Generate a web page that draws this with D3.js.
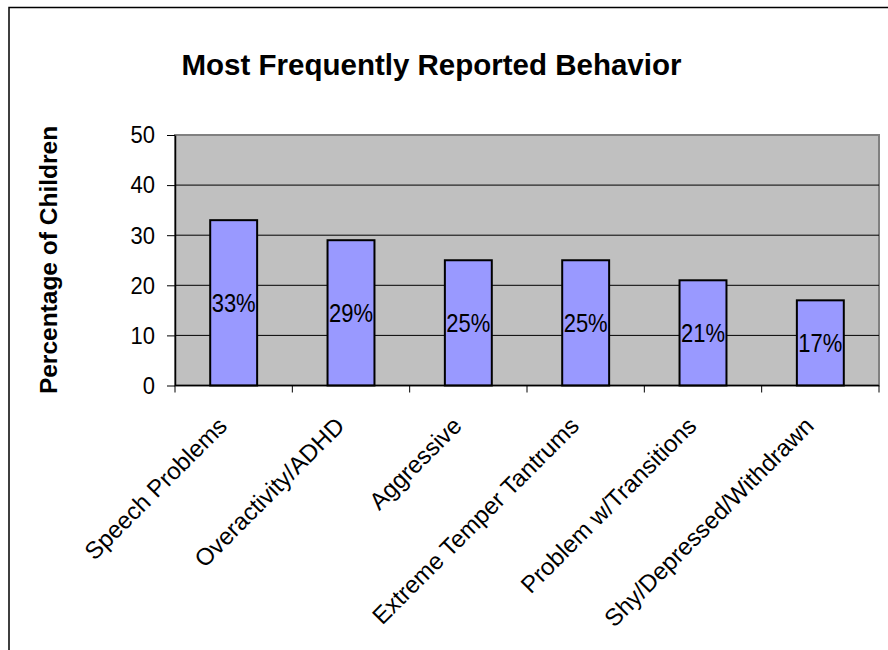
<!DOCTYPE html>
<html lang="en">
<head>
  <meta charset="UTF-8" />
  <title>Most Frequently Reported Behavior</title>
  <script src="https://d3js.org/d3.v7.min.js"></script>
  <style>
    body {
      margin: 0;
      background: #fff;
      font-family: Arial, "Liberation Sans", sans-serif;
    }
    .tick text {
      font-size: 22px;
      fill: #000;
    }
    .bar {
      fill: #9999ff;
      stroke: #000;
      stroke-width: 2;
    }
    .bar-label {
      font-size: 22px;
    }
    .x-label {
      font-size: 24px;
    }
  </style>
</head>
<body>

<svg width="888" height="650"></svg>

<script>
  const categories = ["Speech Problems", "Overactivity/ADHD", "Aggressive",
                      "Extreme Temper Tantrums", "Problem w/Transitions", "Shy/Depressed/Withdrawn"];
  const values = [33, 29, 25, 25, 21, 17];
  const yTicks = [0, 10, 20, 30, 40, 50];

  const svg = d3.select("svg"),
        margin = {top: 135, right: 9, bottom: 264.5, left: 175},
        width = +svg.attr("width") - margin.left - margin.right,
        height = +svg.attr("height") - margin.top - margin.bottom;

  // outer chart frame (runs off the right and bottom of the picture)
  svg.append("rect")
    .attr("x", 9).attr("y", 7.5)
    .attr("width", 1000).attr("height", 1000)
    .attr("fill", "none")
    .attr("stroke", "#000")
    .attr("stroke-width", 1.5);

  svg.append("text")
    .attr("x", 431.5).attr("y", 75)
    .attr("text-anchor", "middle")
    .attr("font-size", "29.5px")
    .attr("font-weight", "bold")
    .text("Most Frequently Reported Behavior");

  svg.append("text")
    .attr("transform", "translate(56.5,260) rotate(-90)")
    .attr("text-anchor", "middle")
    .attr("font-size", "24.5px")
    .attr("font-weight", "bold")
    .text("Percentage of Children");

  const g = svg.append("g").attr("transform", `translate(${margin.left},${margin.top})`);

  const x = d3.scaleBand()
    .domain(categories)
    .range([0, width])
    .paddingInner(0.6)
    .paddingOuter(0.3);

  const y = d3.scaleLinear()
    .domain([0, 50])
    .range([height, 0]);

  g.append("rect")
    .attr("width", width).attr("height", height)
    .attr("fill", "#c0c0c0")
    .attr("stroke", "#808080")
    .attr("stroke-width", 2);

  // gridlines
  g.selectAll(".grid")
    .data(yTicks.filter(d => d > 0 && d < 50))
    .join("line")
    .attr("x1", 0).attr("x2", width)
    .attr("y1", d => y(d)).attr("y2", d => y(d))
    .attr("stroke", "#000")
    .attr("stroke-width", 1);

  g.selectAll(".bar")
    .data(values)
    .join("rect")
    .attr("class", "bar")
    .attr("x", (d, i) => x(categories[i]))
    .attr("y", d => y(d))
    .attr("width", x.bandwidth())
    .attr("height", d => y(0) - y(d));

  // labels in the source are slightly stretched vertically
  g.selectAll(".bar-label")
    .data(values)
    .join("text")
    .attr("class", "bar-label")
    .attr("transform", (d, i) =>
      `translate(${x(categories[i]) + x.bandwidth() / 2},${(y(d) + y(0)) / 2}) scale(1,1.15)`)
    .attr("dy", "0.36em")
    .attr("text-anchor", "middle")
    .text(d => d + "%");

  // y axis
  const yAxis = g.append("g")
    .call(d3.axisLeft(y).tickValues(yTicks).tickSize(8).tickSizeOuter(0).tickPadding(12));
  yAxis.select(".domain").attr("stroke", "#000").attr("stroke-width", 1.5);
  yAxis.selectAll(".tick line").attr("stroke", "#000");
  yAxis.selectAll(".tick text")
    .attr("font-family", "Arial, 'Liberation Sans', sans-serif")
    .attr("transform", "scale(1,1.12)");

  // x axis: ticks sit on category boundaries
  const step = width / categories.length;
  const xAxis = g.append("g").attr("transform", `translate(0,${height})`);
  xAxis.append("line")
    .attr("x1", 0).attr("x2", width)
    .attr("stroke", "#000").attr("stroke-width", 1.5);
  xAxis.selectAll(".xtick")
    .data(d3.range(categories.length + 1))
    .join("line")
    .attr("x1", d => d * step).attr("x2", d => d * step)
    .attr("y1", 0).attr("y2", 7)
    .attr("stroke", "#000");

  xAxis.selectAll(".x-label")
    .data(categories)
    .join("text")
    .attr("class", "x-label")
    .attr("text-anchor", "end")
    .attr("transform", d => `translate(${x(d) + x.bandwidth() / 2 - 17},${30}) rotate(-45)`)
    .attr("dy", "0.7em")
    .text(d => d);
</script>

</body>
</html>
